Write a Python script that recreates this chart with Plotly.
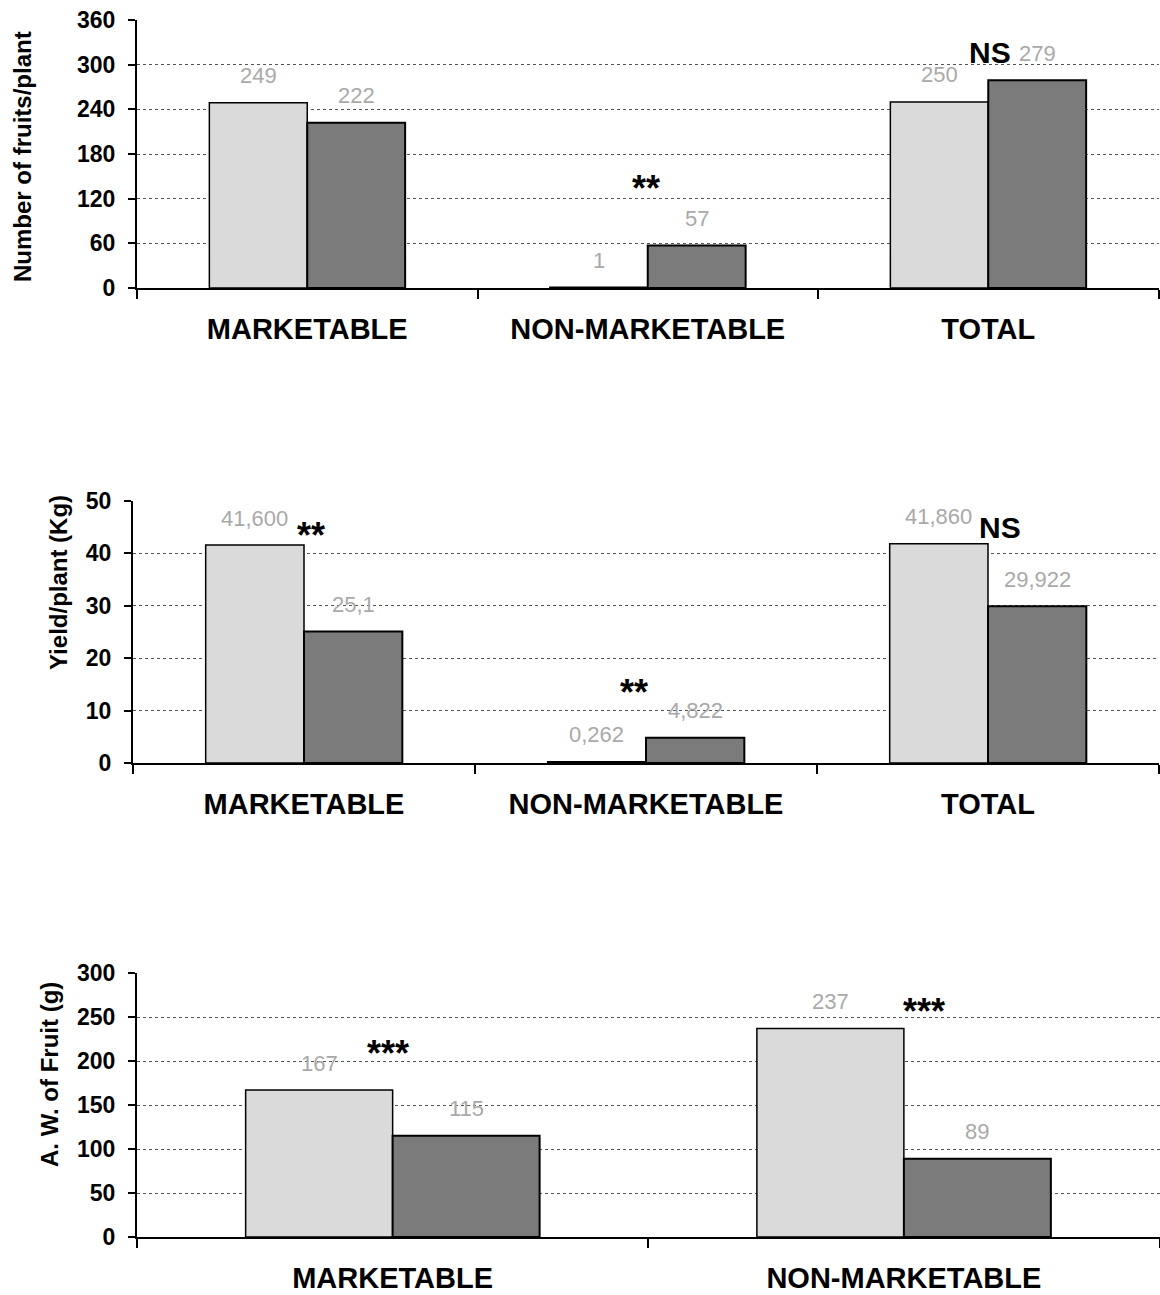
import plotly.graph_objects as go

# Categories
categories_abc = ["MARKETABLE", "NON-MARKETABLE", "TOTAL"]
categories_ab = ["MARKETABLE", "NON-MARKETABLE"]

# Number of fruits per plant
fruits_light = [249, 1, 250]
fruits_dark = [222, 57, 279]

# Yield per plant (kg); labels use a decimal comma
yield_light = [41.600, 0.262, 41.860]
yield_dark = [25.1, 4.822, 29.922]
yield_light_labels = ["41,600", "0,262", "41,860"]
yield_dark_labels = ["25,1", "4,822", "29,922"]

# Average weight of fruit (g)
weight_light = [167, 237]
weight_dark = [115, 89]

# Significance marks: (category position, height in axis units, text)
sig_fruits = [(0.995, 133.7, "**"), (2.005, 317, "NS")]
sig_yield = [(0.02, 43.4, "**"), (2.035, 45, "NS"), (0.965, 13.45, "**")]
sig_weight = [(-0.01, 208.5, "***"), (1.04, 256, "***")]

LIGHT = "#dadada"
DARK = "#7b7b7b"
LABEL_GREY = "#a9a9a9"
BARGAP = 0.425
W, H = 1160, 1295

fig = go.Figure()

panels = [
    ("x", "y", categories_abc, fruits_light, fruits_dark,
     [str(v) for v in fruits_light], [str(v) for v in fruits_dark], sig_fruits),
    ("x2", "y2", categories_abc, yield_light, yield_dark,
     yield_light_labels, yield_dark_labels, sig_yield),
    ("x3", "y3", categories_ab, weight_light, weight_dark,
     [str(v) for v in weight_light], [str(v) for v in weight_dark], sig_weight),
]

annotations = []
off = (1 - BARGAP) / 4
for xa, ya, cats, light, dark, llab, dlab, sigs in panels:
    fig.add_trace(go.Bar(x=cats, y=light, xaxis=xa, yaxis=ya,
                         marker=dict(color=LIGHT, line=dict(color="black", width=1.5)),
                         showlegend=False, hoverinfo="skip"))
    fig.add_trace(go.Bar(x=cats, y=dark, xaxis=xa, yaxis=ya,
                         marker=dict(color=DARK, line=dict(color="black", width=2)),
                         showlegend=False, hoverinfo="skip"))
    for i in range(len(cats)):
        for xpos, val, txt in ((i - off, light[i], llab[i]), (i + off, dark[i], dlab[i])):
            annotations.append(dict(
                x=xpos, y=val, xref=xa, yref=ya, text=txt, showarrow=False,
                yanchor="middle", yshift=27,
                font=dict(family="Liberation Sans, Arial", size=22,
                          color=LABEL_GREY)))
    for xpos, yv, txt in sigs:
        annotations.append(dict(
            x=xpos, y=yv, xref=xa, yref=ya, text=txt, showarrow=False,
            yanchor="middle",
            font=dict(family="Liberation Sans, Arial",
                      size=36 if "*" in txt else 30, color="black",
                      weight="bold")))

# Rotated y-axis titles
for txt, xpx, ypx in (("Number of fruits/plant", 22, 157),
                      ("Yield/plant (Kg)", 58, 583),
                      ("A. W. of Fruit (g)", 49, 1075)):
    annotations.append(dict(
        x=xpx / W, y=1 - ypx / H, xref="paper", yref="paper", text=txt,
        textangle=-90, showarrow=False, xanchor="center", yanchor="middle",
        font=dict(family="Liberation Sans, Arial", size=24, color="black",
                  weight="bold")))

xcommon = dict(
    type="category", showline=True, linecolor="black", linewidth=2,
    ticks="outside", tickson="boundaries", ticklen=9, tickwidth=2,
    tickcolor="black", showgrid=False, ticklabelstandoff=14,
    tickfont=dict(family="Liberation Sans, Arial", size=29, color="black",
                  weight="bold"),
)
ycommon = dict(
    showline=True, linecolor="black", linewidth=2, ticks="outside",
    ticklen=7, tickwidth=2, tickcolor="black", showgrid=True,
    gridcolor="#555555", gridwidth=1, griddash="dot", zeroline=False,
    ticklabelstandoff=8,
    tickfont=dict(family="Liberation Sans, Arial", size=23, color="black",
                  weight="bold"),
)

fig.update_layout(
    width=W, height=H,
    margin=dict(l=0, r=0, t=0, b=0, autoexpand=False),
    paper_bgcolor="white", plot_bgcolor="white",
    barmode="group", bargap=BARGAP, bargroupgap=0,
    annotations=annotations,
    xaxis=dict(xcommon, domain=[137 / W, 1158.5 / W], anchor="y"),
    yaxis=dict(ycommon, domain=[1 - 288 / H, 1 - 20 / H], range=[0, 360],
               dtick=60, anchor="x"),
    xaxis2=dict(xcommon, domain=[133 / W, 1159 / W], anchor="y2"),
    yaxis2=dict(ycommon, domain=[1 - 763 / H, 1 - 501 / H], range=[0, 50],
                dtick=10, anchor="x2"),
    xaxis3=dict(xcommon, domain=[137 / W, 1159.5 / W], anchor="y3"),
    yaxis3=dict(ycommon, domain=[1 - 1237 / H, 1 - 973 / H], range=[0, 300],
                dtick=50, anchor="x3"),
)

fig.write_html("out.html")
